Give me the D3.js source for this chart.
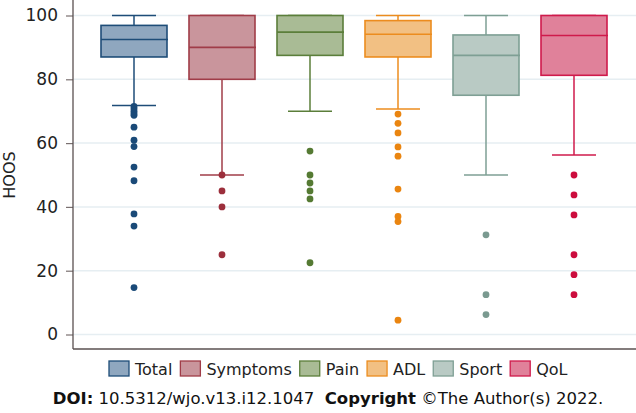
<!DOCTYPE html>
<html><head><meta charset="utf-8">
<script src="https://cdn.jsdelivr.net/npm/d3@7"></script>
<style>body{margin:0;background:#fff}svg{display:block}</style>
</head><body><svg id="c" width="636" height="413"></svg>
<script>
const categories = ["Total","Symptoms","Pain","ADL","Sport","QoL"];
const q1 =      [87.0, 80.0, 87.5, 87.0, 75.0, 81.25];
const medians = [92.5, 90.0, 94.8, 94.1, 87.5, 93.75];
const q3 =      [96.9, 100, 100, 98.4, 93.9, 100];
const whiskLo = [71.8, 50.0, 70.0, 70.7, 50.0, 56.25];
const whiskHi = [100, 100, 100, 100, 100, 100];
const outliers = [
  [71.5, 70.8, 70.0, 69.3, 68.7, 65.0, 60.9, 58.9, 52.5, 48.2, 37.8, 34.0, 14.7],
  [50.0, 45.0, 40.0, 25.0],
  [57.5, 50.0, 47.5, 45.0, 42.5, 22.5],
  [69.1, 66.2, 63.2, 58.8, 55.9, 45.6, 37.0, 35.4, 4.5],
  [31.25, 12.5, 6.25],
  [50.0, 43.75, 37.5, 25.0, 18.75, 12.5]
];
const yTicks = [0, 20, 40, 60, 80, 100];
const fills =   ["#8fa7bf","#c9959c","#a9bb95","#f2c083","#b9cac4","#e0819a"];
const strokes = ["#1e4d78","#a03c48","#5b7e3a","#ec8c1e","#7e9f94","#cf1a4b"];
const dots =    ["#1a4a78","#9c2f3c","#557a33","#ea8510","#7a9a90","#cc0d3e"];
const yTitle = "HOOS";

const svg = d3.select("#c");
const font = "'DejaVu Sans', Verdana, sans-serif";
const pLeft = 73, pRight = 636, pTop = 0, pBottom = 349;
const y = d3.scaleLinear().domain([0,100]).range([334.5, 15.5]);
const x = d3.scalePoint().domain(categories).range([134, 574]);
const boxW = 66, capW = 44;

// gridlines
svg.append("g").selectAll("line").data(yTicks).join("line")
  .attr("x1", pLeft).attr("x2", pRight)
  .attr("y1", d=>y(d)).attr("y2", d=>y(d))
  .attr("stroke", "#e6eef2").attr("stroke-width", 1.5);

// y axis
const ax = svg.append("g").attr("transform", `translate(${pLeft},0)`)
  .call(d3.axisLeft(y).tickValues(yTicks).tickSize(7).tickPadding(8));
ax.select(".domain").remove();
ax.selectAll(".tick line").attr("stroke", "#7a7070").attr("stroke-width", 1.2);
ax.selectAll(".tick text").attr("font-family", font).attr("font-size", 17).attr("fill", "#222");
svg.append("line").attr("x1", pLeft).attr("x2", pLeft).attr("y1", pTop).attr("y2", pBottom)
  .attr("stroke", "#5a5050").attr("stroke-width", 1.3);
svg.append("line").attr("x1", pLeft).attr("x2", pRight).attr("y1", pBottom).attr("y2", pBottom)
  .attr("stroke", "#5a5050").attr("stroke-width", 1.3);

svg.append("text").attr("transform", `translate(15,${(y(0)+y(100))/2}) rotate(-90)`)
  .attr("text-anchor", "middle").attr("font-family", font).attr("font-size", 16)
  .attr("fill", "#222").text(yTitle);

// boxes
const data = categories.map((c,i)=>({c,i}));
const g = svg.append("g").selectAll("g").data(data).join("g");
g.append("line").attr("x1", d=>x(d.c)).attr("x2", d=>x(d.c))
  .attr("y1", d=>y(whiskHi[d.i])).attr("y2", d=>y(q3[d.i]))
  .attr("stroke", d=>strokes[d.i]).attr("stroke-width", 1.5);
g.append("line").attr("x1", d=>x(d.c)).attr("x2", d=>x(d.c))
  .attr("y1", d=>y(q1[d.i])).attr("y2", d=>y(whiskLo[d.i]))
  .attr("stroke", d=>strokes[d.i]).attr("stroke-width", 1.5);
g.append("line").attr("x1", d=>x(d.c)-capW/2).attr("x2", d=>x(d.c)+capW/2)
  .attr("y1", d=>y(whiskHi[d.i])).attr("y2", d=>y(whiskHi[d.i]))
  .attr("stroke", d=>strokes[d.i]).attr("stroke-width", 1.5);
g.append("line").attr("x1", d=>x(d.c)-capW/2).attr("x2", d=>x(d.c)+capW/2)
  .attr("y1", d=>y(whiskLo[d.i])).attr("y2", d=>y(whiskLo[d.i]))
  .attr("stroke", d=>strokes[d.i]).attr("stroke-width", 1.5);
g.append("rect").attr("x", d=>x(d.c)-boxW/2).attr("width", boxW)
  .attr("y", d=>y(q3[d.i])).attr("height", d=>y(q1[d.i])-y(q3[d.i]))
  .attr("fill", d=>fills[d.i]).attr("stroke", d=>strokes[d.i]).attr("stroke-width", 1.6);
g.append("line").attr("x1", d=>x(d.c)-boxW/2).attr("x2", d=>x(d.c)+boxW/2+1)
  .attr("y1", d=>y(medians[d.i])).attr("y2", d=>y(medians[d.i]))
  .attr("stroke", d=>strokes[d.i]).attr("stroke-width", 1.6);
g.selectAll("circle").data(d=>outliers[d.i].map(v=>({v,c:d.c,i:d.i}))).join("circle")
  .attr("cx", d=>x(d.c)).attr("cy", d=>y(d.v)).attr("r", 3.4)
  .attr("fill", d=>dots[d.i]);

// legend
const leg = svg.append("g");
let lx = 109;
categories.forEach((c,i)=>{
  leg.append("rect").attr("x", lx).attr("y", 361).attr("width", 20).attr("height", 15)
    .attr("fill", fills[i]).attr("stroke", strokes[i]).attr("stroke-width", 1.3);
  const t = leg.append("text").attr("x", lx+26).attr("y", 375)
    .attr("font-family", font).attr("font-size", 16).attr("fill", "#222").text(c);
  lx += 26 + t.node().getComputedTextLength() + 8;
});

// footer
const ft = svg.append("text").attr("x", 328).attr("y", 404).attr("text-anchor", "middle")
  .attr("font-family", font).attr("font-size", 16.5).attr("fill", "#111")
  .style("white-space", "pre");
ft.append("tspan").attr("font-weight", "bold").text("DOI:");
ft.append("tspan").text(" 10.5312/wjo.v13.i12.1047  ");
ft.append("tspan").attr("font-weight", "bold").text("Copyright");
ft.append("tspan").text(" ©The Author(s) 2022.");
</script></body></html>
